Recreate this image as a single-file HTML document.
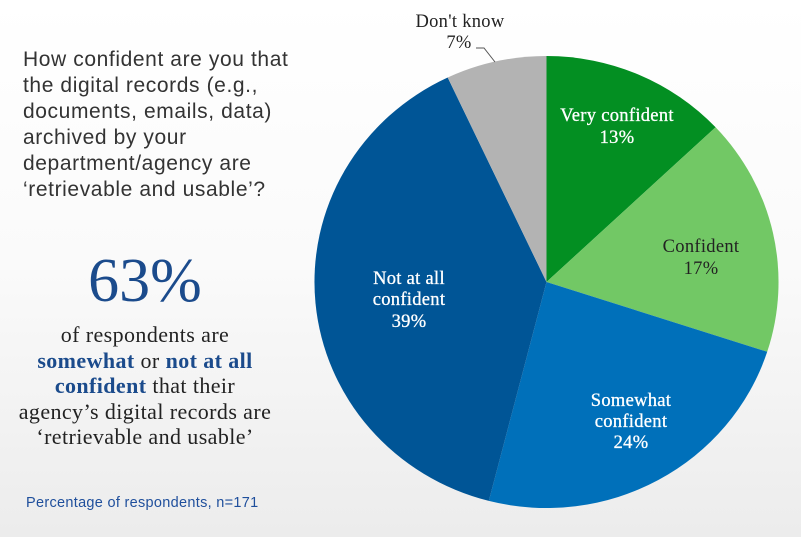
<!DOCTYPE html>
<html><head><meta charset="utf-8"><style>
html,body{margin:0;padding:0}
body{width:801px;height:537px;overflow:hidden;background:linear-gradient(#fff 0%,#fafafa 50%,#ececec 100%);position:relative;font-family:"Liberation Sans",sans-serif}
.q{position:absolute;left:23px;top:47px;font-size:21px;line-height:26px;color:#333;letter-spacing:0.6px;white-space:nowrap}
.big{position:absolute;left:0;width:290px;text-align:center;top:246px;font-family:"Liberation Serif",serif;font-size:62px;line-height:70px;color:#1b4b8c}
.sub{position:absolute;left:0;width:290px;text-align:center;top:322px;font-family:"Liberation Serif",serif;font-size:22px;line-height:25.5px;color:#222;letter-spacing:0.4px;white-space:nowrap}
.sub b{color:#1b4b8c}
.fn{position:absolute;left:26px;top:495px;font-size:14.5px;color:#1f4f9c;letter-spacing:0.3px}
</style></head><body>
<div class="q">How confident are you that<br>the digital records (e.g.,<br>documents, emails, data)<br>archived by your<br>department/agency are<br>‘retrievable and usable’?</div>
<div class="big">63%</div>
<div class="sub">of respondents are<br><b>somewhat</b> or <b>not at all</b><br><b>confident</b> that their<br>agency’s digital records are<br>‘retrievable and usable’</div>
<div class="fn">Percentage of respondents, n=171</div>
<svg width="801" height="537" style="position:absolute;left:0;top:0" font-family="Liberation Serif, serif" font-size="18.5" text-anchor="middle" letter-spacing="0.3">
<path d="M546.5,282 L546.5,56 A232,226 0 0 1 715.6,127.3Z" fill="#038f22"/>
<path d="M546.5,282 L715.6,127.3 A232,226 0 0 1 767.2,351.8Z" fill="#72c865"/>
<path d="M546.5,282 L767.2,351.8 A232,226 0 0 1 488.8,500.9Z" fill="#0070ba"/>
<path d="M546.5,282 L488.8,500.9 A232,226 0 0 1 447.7,77.5Z" fill="#005596"/>
<path d="M546.5,282 L447.7,77.5 A232,226 0 0 1 546.5,56Z" fill="#b3b3b3"/>
<polyline points="476,48 484,48 495,62" fill="none" stroke="#555" stroke-width="1"/>
<g fill="#222"><text x="460" y="27">Don't know</text><text x="459" y="48">7%</text>
<text x="701" y="252">Confident</text><text x="701" y="274">17%</text></g>
<g fill="#fff" stroke="#fff" stroke-width="0.3"><text x="617" y="121">Very confident</text><text x="617" y="143">13%</text>
<text x="631" y="406">Somewhat</text><text x="631" y="427">confident</text><text x="631" y="448">24%</text>
<text x="409" y="284">Not at all</text><text x="409" y="305">confident</text><text x="409" y="327">39%</text></g>
</svg>
</body></html>
